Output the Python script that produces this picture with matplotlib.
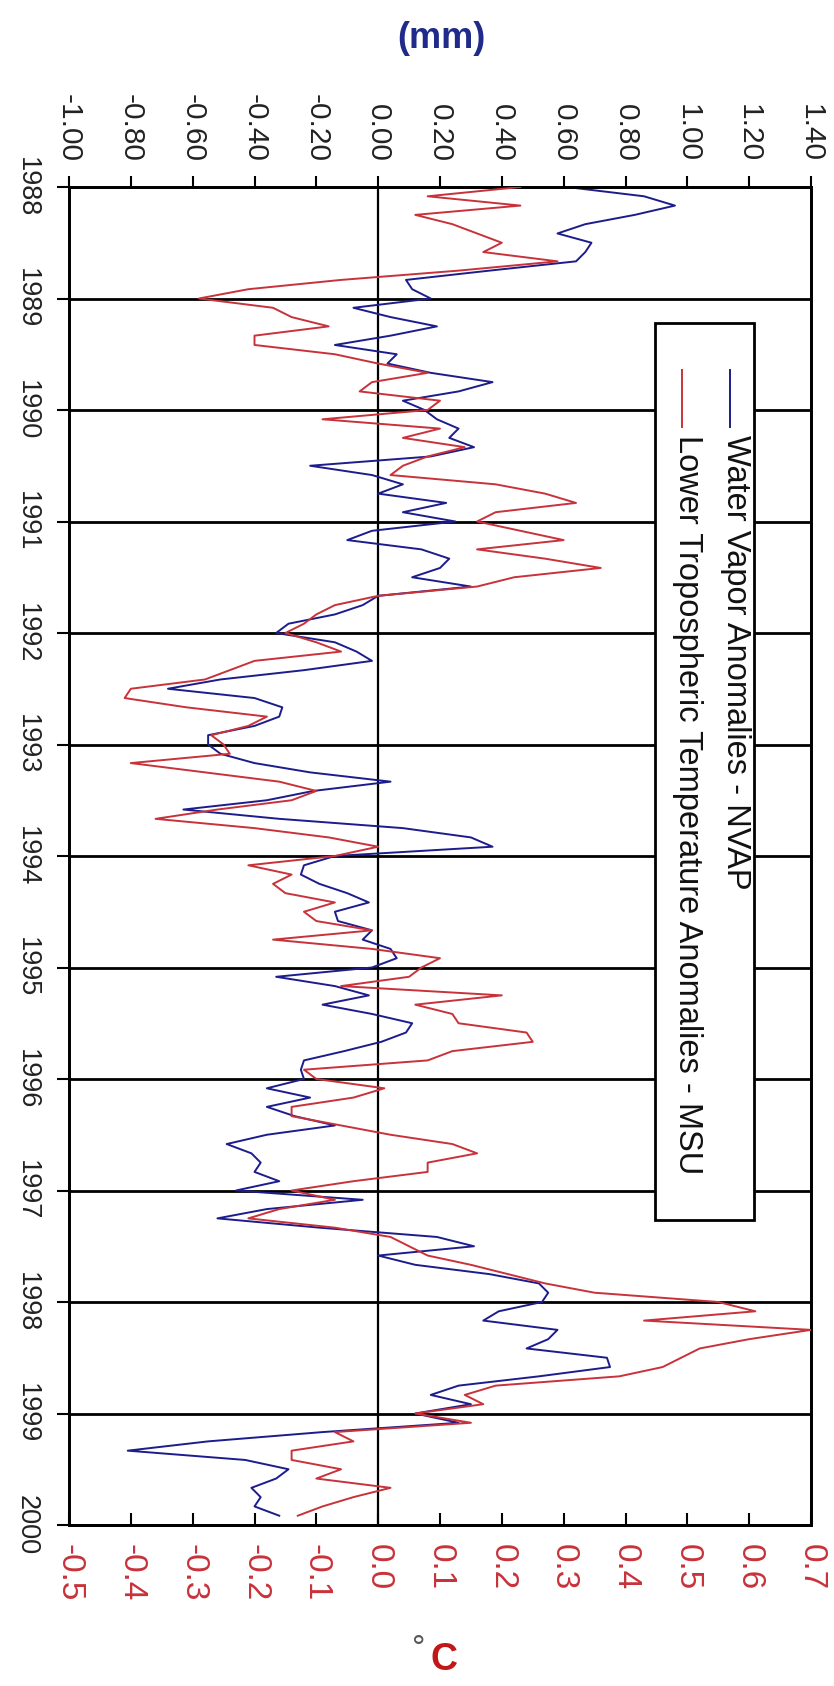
import numpy as np
import matplotlib
matplotlib.use('Agg')
import matplotlib.pyplot as plt
from matplotlib.patches import Rectangle

# axis tick values
years = list(range(1988, 2001))
mm_ticks = [-1.00, -0.80, -0.60, -0.40, -0.20, 0.00, 0.20, 0.40, 0.60, 0.80, 1.00, 1.20, 1.40]
c_ticks = [-0.5, -0.4, -0.3, -0.2, -0.1, 0.0, 0.1, 0.2, 0.3, 0.4, 0.5, 0.6, 0.7]

# monthly anomalies, Jan 1988 .. Dec 1999
water_vapor_mm = [
    0.61, 0.86, 0.96, 0.83, 0.67, 0.58, 0.69, 0.67, 0.64, 0.36, 0.09, 0.11,
    0.17, -0.08, 0.04, 0.19, 0.04, -0.14, 0.06, 0.03, 0.17, 0.37, 0.26, 0.08,
    0.15, 0.19, 0.26, 0.23, 0.31, 0.17, -0.22, -0.02, 0.08, 0.00, 0.22, 0.08,
    0.25, -0.02, -0.10, 0.14, 0.23, 0.20, 0.11, 0.30, 0.00, -0.05, -0.14, -0.29,
    -0.33, -0.14, -0.07, -0.02, -0.24, -0.51, -0.68, -0.40, -0.31, -0.32, -0.40, -0.55,
    -0.55, -0.51, -0.40, -0.22, 0.04, -0.21, -0.36, -0.63, -0.32, 0.08, 0.30, 0.37,
    -0.14, -0.24, -0.25, -0.19, -0.10, -0.03, -0.14, -0.13, -0.02, -0.05, 0.04, 0.06,
    -0.02, -0.33, -0.14, -0.03, -0.18, -0.02, 0.11, 0.09, 0.01, -0.11, -0.24, -0.25,
    -0.24, -0.36, -0.22, -0.36, -0.27, -0.14, -0.36, -0.49, -0.41, -0.38, -0.40, -0.32,
    -0.46, -0.05, -0.36, -0.52, -0.19, 0.19, 0.31, 0.00, 0.12, 0.36, 0.52, 0.55,
    0.53, 0.39, 0.34, 0.58, 0.55, 0.48, 0.74, 0.75, 0.52, 0.26, 0.17, 0.30,
    0.12, 0.26, -0.18, -0.55, -0.81, -0.43, -0.29, -0.33, -0.41, -0.38, -0.40, -0.32,
]
msu_temp_c = [
    0.23, 0.08, 0.23, 0.06, 0.12, 0.16, 0.20, 0.17, 0.29, 0.13, -0.06, -0.21,
    -0.29, -0.17, -0.14, -0.08, -0.20, -0.20, -0.07, 0.00, 0.08, -0.01, -0.03, 0.10,
    0.08, -0.09, 0.10, 0.04, 0.14, 0.08, 0.04, 0.02, 0.19, 0.27, 0.32, 0.19,
    0.16, 0.23, 0.30, 0.16, 0.27, 0.36, 0.22, 0.16, 0.00, -0.07, -0.10, -0.12,
    -0.15, -0.10, -0.06, -0.20, -0.24, -0.28, -0.40, -0.41, -0.31, -0.18, -0.21, -0.27,
    -0.25, -0.24, -0.40, -0.28, -0.16, -0.10, -0.14, -0.26, -0.36, -0.20, -0.08, 0.00,
    -0.07, -0.21, -0.14, -0.17, -0.15, -0.07, -0.12, -0.10, -0.01, -0.17, -0.01, 0.10,
    0.07, 0.05, -0.06, 0.20, 0.06, 0.12, 0.13, 0.24, 0.25, 0.12, 0.08, -0.12,
    -0.10, 0.01, -0.04, -0.14, -0.14, -0.06, 0.02, 0.12, 0.16, 0.08, 0.08, -0.04,
    -0.14, -0.07, -0.16, -0.21, -0.07, 0.02, 0.05, 0.08, 0.15, 0.21, 0.27, 0.35,
    0.55, 0.61, 0.43, 0.70, 0.60, 0.52, 0.49, 0.46, 0.39, 0.19, 0.14, 0.17,
    0.06, 0.15, -0.07, -0.04, -0.14, -0.14, -0.06, -0.10, 0.02, -0.04, -0.09, -0.13,
]
series_labels = ['Water Vapor Anomalies - NVAP',
                 'Lower Tropospheric Temperature Anomalies - MSU']

t = 1988 + np.arange(len(water_vapor_mm)) / 12.0

BLUE = '#1c1c8c'
RED = '#c8323a'

plt.rcParams['font.family'] = ['Liberation Sans', 'DejaVu Sans']

fig = plt.figure(figsize=(8.34, 16.86), dpi=100)
ax = fig.add_axes([69 / 834, 1 - 1525 / 1686, 742 / 834, 1338 / 1686])
ax2 = ax.twiny()

# time runs downwards, values run across
ax.plot(water_vapor_mm, t, color=BLUE, lw=1.4, zorder=3)
ax.set_xlim(-1.0, 1.4)
ax.set_ylim(2000, 1988)

ax.set_yticks(years)
ax.set_yticklabels([str(y) for y in years], rotation=-90,
                   fontsize=19.5, color='#222222', va='center')
ax.tick_params(axis='y', direction='out', length=9, width=1.5, pad=12)
ax.yaxis.grid(True, color='black', lw=2)
ax.axvline(0, color='black', lw=1.6, zorder=2)

# mm scale along the top
ax.xaxis.tick_top()
ax.set_xticks(mm_ticks)
ax.set_xticklabels([f'{v:.2f}' for v in mm_ticks], rotation=-90,
                   fontsize=21.5, color='#222222')
ax.tick_params(axis='x', direction='out', length=8, width=1.5, pad=10,
               top=True, labeltop=True, bottom=False, labelbottom=False)

# degC scale along the bottom
ax2.plot(msu_temp_c, t, color=RED, lw=1.4, zorder=3)
ax2.set_xlim(-0.5, 0.7)
ax2.set_ylim(2000, 1988)
ax2.xaxis.tick_bottom()
ax2.set_xticks(c_ticks)
ax2.set_xticklabels([f'{v:.1f}' for v in c_ticks], rotation=-90,
                    fontsize=24, color=RED)
ax2.tick_params(axis='x', direction='in', length=9, width=1.5, pad=14,
                top=False, labeltop=False, bottom=True, labelbottom=True)

for a in (ax, ax2):
    for s in a.spines.values():
        s.set_linewidth(2)
        s.set_color('black')

# legend box with vertical entries
tr = ax2.transAxes
ax2.add_patch(Rectangle((0.790, 0.228), 0.133, 0.670, transform=tr,
                        facecolor='white', edgecolor='black', lw=2, zorder=10))
for xl, xt, col, lab in [(0.891, 0.8976, BLUE, series_labels[0]),
                         (0.826, 0.834, RED, series_labels[1])]:
    ax2.plot([xl, xl], [0.863, 0.821], transform=tr, color=col, lw=1.4, zorder=11)
    ax2.text(xt, 0.815, lab, transform=tr, rotation=-90, ha='center', va='top',
             fontsize=23.5, color='#111111', zorder=11)

fig.text(441 / 834, 1 - 38 / 1686, '(mm)', ha='center', va='center',
         fontsize=26, fontweight='bold', color='#1f2a8a')
fig.text(425 / 834, 1 - 1650 / 1686, '\u00b0', ha='right', va='center',
         fontsize=24, color='#555555')
fig.text(430 / 834, 1 - 1660 / 1686, 'C', ha='left', va='center',
         fontsize=27, fontweight='bold', color='#c01818')

fig.savefig('out.png', dpi=100, facecolor='white')
